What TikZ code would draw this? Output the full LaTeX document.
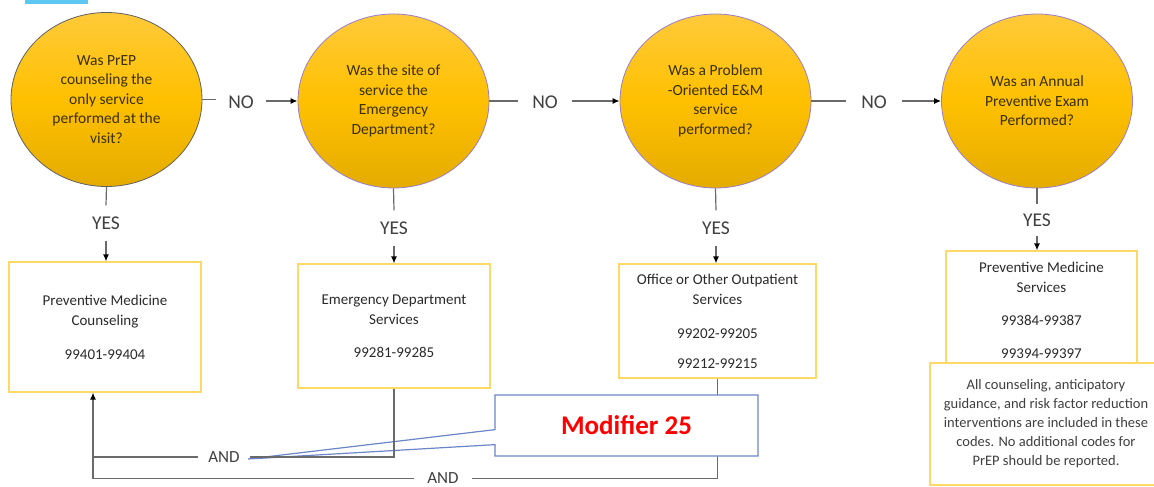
\documentclass[tikz,border=0pt]{standalone}
\usepackage{fontspec}
\setmainfont{Carlito}
\usetikzlibrary{shapes.geometric,shapes.callouts,arrows.meta}
\definecolor{goldtop}{HTML}{FFCA3A}
\definecolor{goldmid}{HTML}{FFC000}
\definecolor{goldbot}{HTML}{E4AC00}
\definecolor{qborder}{HTML}{9B7EC8}
\definecolor{qtext}{HTML}{3A3000}
\definecolor{boxborder}{HTML}{FFD966}
\definecolor{boxtext}{HTML}{2B2B2B}
\definecolor{lbltext}{HTML}{404040}
\definecolor{linegray}{HTML}{6A6A6A}
\definecolor{calloutblue}{HTML}{6A86C8}
\definecolor{cyanbar}{HTML}{5CC8F2}
\begin{document}
\begin{tikzpicture}[x=1pt,y=-1pt,
  question/.style={ellipse, draw=qborder, line width=0.8pt, top color=goldtop, bottom color=goldbot, middle color=goldmid,
    minimum width=191pt, minimum height=174pt, inner sep=0pt, align=center, text=qtext,
    font=\fontsize{15.5}{19.5}\selectfont},
  codebox/.style={draw=boxborder, line width=1.2pt, fill=white, align=center, text=boxtext, inner sep=0pt,
    font=\fontsize{15}{20}\selectfont},
  nolbl/.style={font=\fontsize{19.5}{20}\selectfont, text=lbltext, inner ysep=2pt},
  yeslbl/.style={font=\fontsize{19.5}{20}\selectfont, text=lbltext, inner ysep=11pt, inner xsep=2pt},
  andlbl/.style={font=\fontsize{17}{18}\selectfont, text=lbltext, inner ysep=1pt},
  conn/.style={draw=linegray, line width=1.2pt},
  arr/.style={conn, -{Latex[length=7pt,width=6pt,color=black]}}
]
\useasboundingbox (0,0) rectangle (1154,487);
\clip (0,0) rectangle (1154,487);
\fill[white] (0,0) rectangle (1154,487);
\fill[cyanbar] (25,0) rectangle (88,4.5);

% questions
\node[question, draw=gray!75!black] (c1) at (106.5,99.5) {Was PrEP\\counseling the\\only service\\performed at the\\visit?};
\node[question] (c2) at (393.5,101) {Was the site of\\service the\\Emergency\\Department?};
\node[question] (c3) at (715.5,101) {Was a Problem\\-Oriented E\&M\\service\\performed?};
\node[question] (c4) at (1037,101) {Was an Annual\\Preventive Exam\\Performed?};

% NO labels
\node[nolbl, inner xsep=12pt] (no1) at (241,102) {NO};
\node[nolbl, inner xsep=14pt] (no2) at (545,102) {NO};
\node[nolbl, inner xsep=15pt] (no3) at (874,102) {NO};
\draw[conn] (c1.east) -- (c1.east -| no1.west);
\draw[arr] (no1.east |- c2.west) -- (c2.west);
\draw[conn] (c2.east) -- (c2.east -| no2.west);
\draw[arr] (no2.east |- c3.west) -- (c3.west);
\draw[conn] (c3.east) -- (c3.east -| no3.west);
\draw[arr] (no3.east |- c4.west) -- (c4.west);

% boxes
\node[codebox, minimum width=192pt, minimum height=130pt] (b1) at (105,327) {Preventive Medicine\\Counseling\\[14pt]99401-99404};
\node[codebox, minimum width=192pt, minimum height=124pt] (b2) at (394,326) {Emergency Department\\Services\\[13pt]99281-99285};
\node[codebox, minimum width=197pt, minimum height=114pt] (b3) at (717.5,321) {Office or Other Outpatient\\Services\\[14pt]99202-99205\\[10pt]99212-99215};
\node[codebox, minimum width=191pt, minimum height=118pt] (b4) at (1041.5,310) {Preventive Medicine\\Services\\[13pt]99384-99387\\[13pt]99394-99397};
\node[codebox, minimum width=232pt, minimum height=122pt, text=lbltext, font=\fontsize{14.5}{19}\selectfont] (note) at (1046,424)
  {All counseling, anticipatory\\guidance, and risk factor reduction\\interventions are included in these\\codes. No additional codes for\\PrEP should be reported.};

% YES labels
\node[yeslbl] (yes1) at (106,223) {YES};
\node[yeslbl] (yes2) at (394,228) {YES};
\node[yeslbl] (yes3) at (716,228) {YES};
\node[yeslbl, inner ysep=9pt] (yes4) at (1037,220) {YES};
\draw[conn] (c1.south) -- (yes1.north);
\draw[arr] (yes1.south) -- (yes1.south |- b1.north);
\draw[conn] (c2.south) -- (yes2.north);
\draw[arr] (yes2.south) -- (yes2.south |- b2.north);
\draw[conn] (c3.south) -- (yes3.north);
\draw[arr] (yes3.south) -- (yes3.south |- b3.north);
\draw[conn] (c4.south) -- (yes4.north);
\draw[arr] (yes4.south) -- (yes4.south |- b4.north);

% bottom connectors
\coordinate (b1in) at ([xshift=-12pt]b1.south);
\node[andlbl, inner xsep=10pt] (and1) at (224,457) {AND};
\node[andlbl, inner xsep=13pt] (and2) at (443,478.5) {AND};
\draw[conn] (b3.south) |- (and2.east);
\draw[arr] (and2.west) -| (b1in);

% callout
\coordinate (modtip) at (248,459);
\node[rectangle callout, draw=calloutblue, line width=1.2pt, fill=white, minimum width=263pt, minimum height=61pt,
  callout absolute pointer=(modtip), callout pointer width=15pt, text=red,
  font=\fontsize{27}{30}\selectfont\bfseries] (mod) at (626.5,425.5) {Modifier 25};

\draw[conn] (b2.south) |- (and1.east);
\draw[conn] (and1.west) -- (and1.west -| b1in);
\end{tikzpicture}
\end{document}
